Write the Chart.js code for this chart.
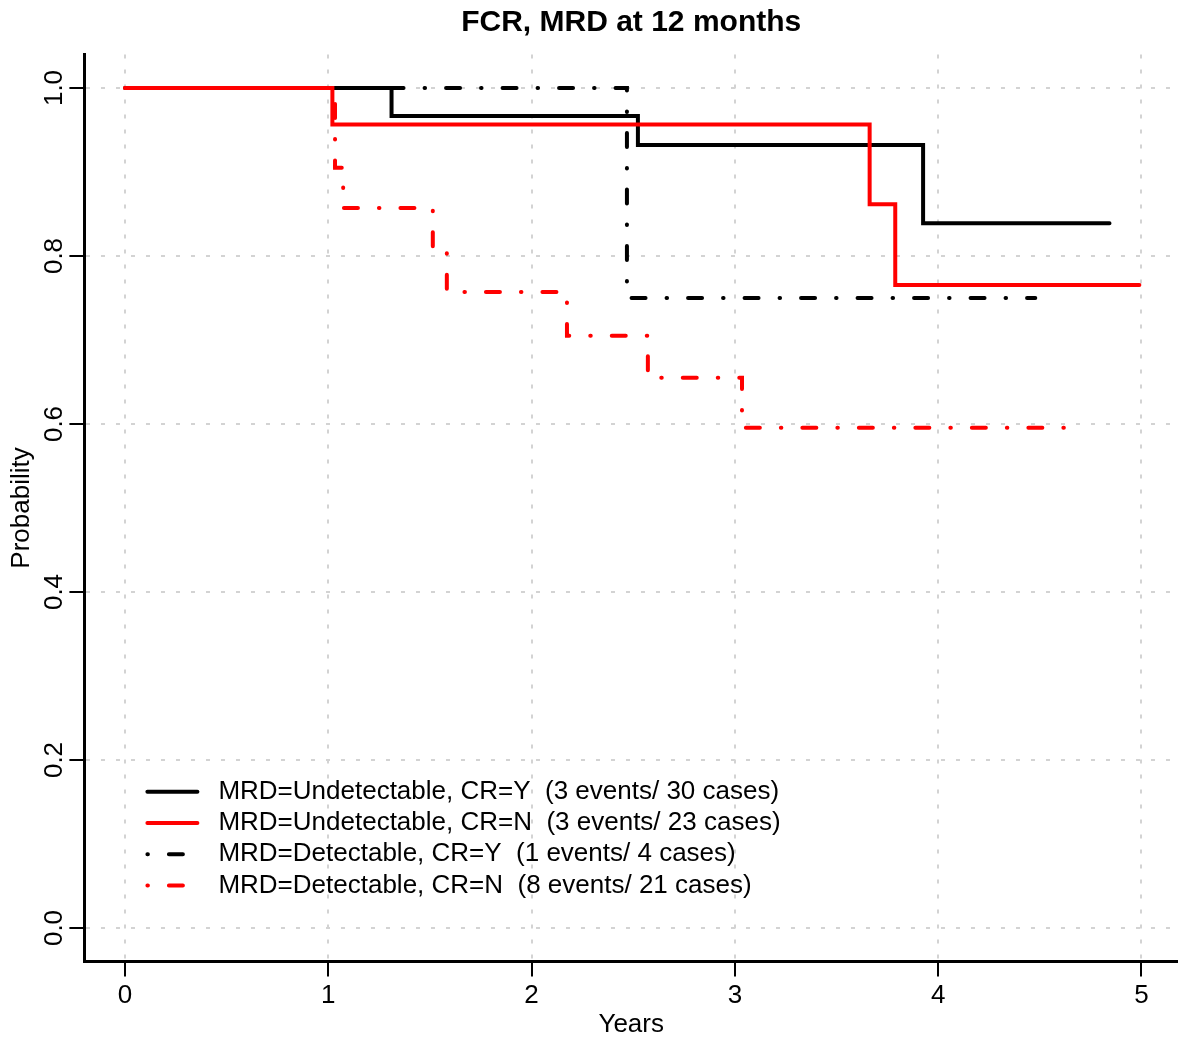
<!DOCTYPE html>
<html>
<head>
<meta charset="utf-8">
<script src="https://cdn.jsdelivr.net/npm/chart.js@4.4.0/dist/chart.umd.min.js"></script>
<style>
  body { margin: 0; background: #fff; }
  #wrap { width: 1178px; height: 1042px; }
</style>
</head>
<body>
<div id="wrap"><canvas id="km" width="1178" height="1042"></canvas></div>
<script>
// Kaplan-Meier curves: time in years, survival probability
const undetCrYTimes = [0, 1.311, 2.523, 3.926, 4.843];
const undetCrYSurv = [1, 0.9667, 0.932, 0.839, 0.839];

const undetCrNTimes = [0, 1.02, 3.663, 3.789, 4.99];
const undetCrNSurv = [1, 0.9565, 0.8615, 0.7655, 0.7655];

const detCrYTimes = [0, 2.469, 4.478];
const detCrYSurv = [1, 0.75, 0.75];

const detCrNTimes = [0, 1.033, 1.073, 1.514, 1.583, 2.174, 2.572, 3.035, 4.666];
const detCrNSurv = [1, 0.905, 0.857, 0.807, 0.757, 0.705, 0.655, 0.5956, 0.5956];

const seriesLabels = [
  "MRD=Undetectable, CR=Y  (3 events/ 30 cases)",
  "MRD=Undetectable, CR=N  (3 events/ 23 cases)",
  "MRD=Detectable, CR=Y  (1 events/ 4 cases)",
  "MRD=Detectable, CR=N  (8 events/ 21 cases)",
];

const xTicks = [0, 1, 2, 3, 4, 5];
const yTicks = [0, 0.2, 0.4, 0.6, 0.8, 1.0];
const yTickLabels = ["0.0", "0.2", "0.4", "0.6", "0.8", "1.0"];

const FONT = "'Liberation Sans', Arial, Helvetica, sans-serif";
const dotDash = [14, 21, 0.5, 21];
const legendDash = [0.5, 21, 14, 21];

function toPoints(times, surv) {
  return times.map((t, i) => ({ x: t, y: surv[i] }));
}

Chart.defaults.font.family = FONT;
Chart.defaults.color = "#000";

// y tick labels (rotated, as in R) and the legend inside the plot
const extras = {
  id: "extras",
  afterDraw(chart) {
    const ctx = chart.ctx;
    const area = chart.chartArea;
    const yScale = chart.scales.y;
    ctx.save();
    ctx.fillStyle = "#000";
    ctx.font = "26px " + FONT;
    ctx.textAlign = "center";
    ctx.textBaseline = "alphabetic";
    yTicks.forEach((v, i) => {
      ctx.save();
      ctx.translate(area.left - 22, yScale.getPixelForValue(v));
      ctx.rotate(-Math.PI / 2);
      ctx.fillText(yTickLabels[i], 0, 0);
      ctx.restore();
    });

    const x0 = area.left + 63;
    const x1 = x0 + 50;
    const rowH = 31.3;
    const yTop = area.bottom - 76 - rowH * 3;
    ctx.textAlign = "left";
    ctx.textBaseline = "middle";
    chart.data.datasets.forEach((ds, i) => {
      const y = yTop + i * rowH;
      ctx.save();
      ctx.strokeStyle = ds.borderColor;
      ctx.lineWidth = ds.borderWidth;
      ctx.lineCap = "round";
      ctx.setLineDash(ds.borderDash.length ? legendDash : []);
      ctx.beginPath();
      ctx.moveTo(x0, y);
      ctx.lineTo(x1, y);
      ctx.stroke();
      ctx.restore();
      ctx.fillText(ds.label, x1 + 21, y);
    });
    ctx.restore();
  },
};

const gridOpts = {
  color: "#d3d3d3",
  lineWidth: 2,
  tickLength: 15,
  tickColor: "#000",
  tickWidth: 2,
  tickBorderDash: [],
};
const borderOpts = { display: true, color: "#000", width: 3, dash: [4, 11] };

new Chart(document.getElementById("km"), {
  type: "line",
  data: {
    datasets: [
      {
        label: seriesLabels[0],
        data: toPoints(undetCrYTimes, undetCrYSurv),
        borderColor: "#000",
        borderWidth: 4,
        borderDash: [],
        order: 4,
      },
      {
        label: seriesLabels[1],
        data: toPoints(undetCrNTimes, undetCrNSurv),
        borderColor: "#ff0000",
        borderWidth: 4,
        borderDash: [],
        order: 2,
      },
      {
        label: seriesLabels[2],
        data: toPoints(detCrYTimes, detCrYSurv),
        borderColor: "#000",
        borderWidth: 4,
        borderDash: dotDash,
        borderDashOffset: 18,
        order: 3,
      },
      {
        label: seriesLabels[3],
        data: toPoints(detCrNTimes, detCrNSurv),
        borderColor: "#ff0000",
        borderWidth: 4,
        borderDash: dotDash,
        order: 1,
      },
    ],
  },
  options: {
    responsive: false,
    animation: false,
    layout: { padding: 0 },
    elements: {
      point: { radius: 0 },
      line: { stepped: true, borderCapStyle: "round", borderJoinStyle: "miter", fill: false },
    },
    plugins: {
      legend: { display: false },
      tooltip: { enabled: false },
      title: {
        display: true,
        fullSize: false,
        text: "FCR, MRD at 12 months",
        color: "#000",
        font: { size: 30, weight: "bold", lineHeight: 1.2 },
        padding: { top: 5, bottom: 13.4 },
      },
    },
    scales: {
      x: {
        type: "linear",
        min: -0.2,
        max: 5.18,
        afterBuildTicks: (axis) => {
          axis.ticks = xTicks.map((v) => ({ value: v }));
        },
        afterFit: (axis) => {
          axis.height = 80.4;
        },
        ticks: { font: { size: 26 }, color: "#000", padding: 4, maxRotation: 0 },
        grid: gridOpts,
        border: borderOpts,
        title: {
          display: true,
          text: "Years",
          color: "#000",
          font: { size: 26, lineHeight: 1.2 },
          padding: { top: 0, bottom: 2 },
        },
      },
      y: {
        type: "linear",
        min: -0.04,
        max: 1.04,
        afterBuildTicks: (axis) => {
          axis.ticks = yTicks.map((v) => ({ value: v }));
        },
        afterFit: (axis) => {
          axis.width = 84.4;
        },
        ticks: { display: false },
        grid: gridOpts,
        border: borderOpts,
        title: {
          display: true,
          text: "Probability",
          color: "#000",
          font: { size: 26, lineHeight: 1.2 },
          padding: { top: 6, bottom: 0 },
        },
      },
    },
  },
  plugins: [extras],
});
</script>
</body>
</html>
